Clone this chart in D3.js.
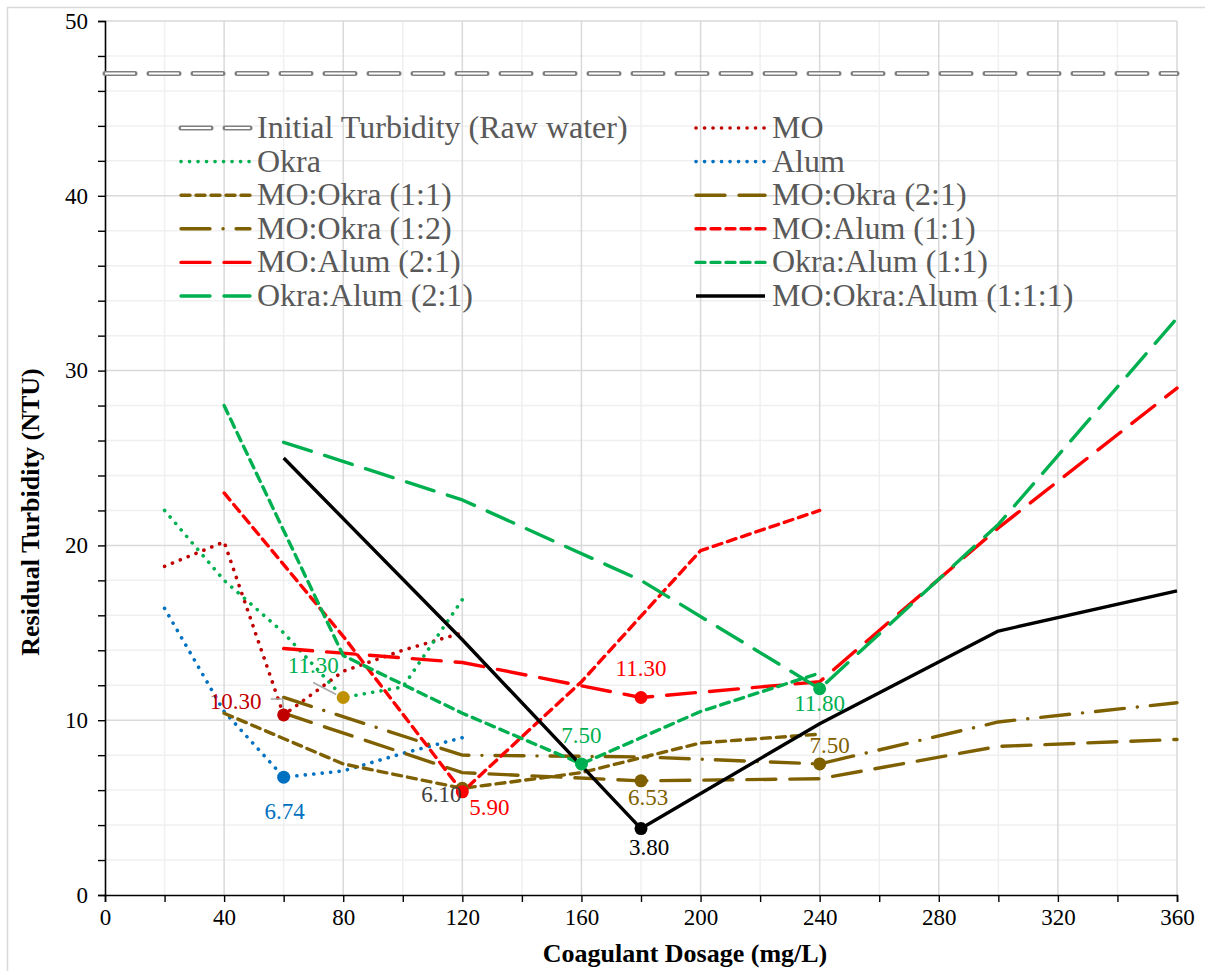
<!DOCTYPE html>
<html>
<head>
<meta charset="utf-8">
<script src="https://cdn.jsdelivr.net/npm/d3@7"></script>
<style>
  body { margin: 0; background: #fff; }
  svg text { font-family: "Liberation Serif", "Times New Roman", serif; }
</style>
</head>
<body>
<div id="chart"></div>
<script>
// values (dose in mg/L, residual turbidity in NTU)
var rawDose = [0, 360],
    rawNTU = [47, 47];
var moDose = [20, 40, 60, 80, 100, 120],
    moNTU = [18.8, 20.2, 10.3, 12.8, 14.0, 15.0];
var okraDose = [20, 40, 60, 80, 100, 120],
    okraNTU = [22.0, 18.0, 15.0, 11.3, 11.9, 16.9];
var alumDose = [20, 40, 60, 80, 100, 120],
    alumNTU = [16.4, 10.5, 6.74, 7.1, 8.1, 9.0];
var moOkra11Dose = [40, 80, 120, 160, 200, 240],
    moOkra11NTU = [10.4, 7.5, 6.1, 7.0, 8.7, 9.2];
var moOkra21Dose = [60, 120, 180, 240, 300, 360],
    moOkra21NTU = [10.4, 7.0, 6.53, 6.65, 8.5, 8.9];
var moOkra12Dose = [60, 120, 180, 240, 300, 360],
    moOkra12NTU = [11.3, 8.0, 7.9, 7.5, 9.9, 11.0];
var moAlum11Dose = [40, 80, 120, 160, 200, 240],
    moAlum11NTU = [23.0, 14.8, 5.9, 12.2, 19.7, 22.0];
var moAlum21Dose = [60, 120, 180, 240, 300, 360],
    moAlum21NTU = [14.1, 13.3, 11.3, 12.2, 21.0, 29.0];
var okraAlum11Dose = [40, 80, 120, 160, 200, 240],
    okraAlum11NTU = [28.0, 13.7, 10.4, 7.5, 10.5, 12.7];
var okraAlum21Dose = [60, 120, 180, 240, 300, 360],
    okraAlum21NTU = [25.9, 22.6, 18.0, 11.8, 21.2, 33.0];
var mixDose = [60, 120, 180, 240, 300, 360],
    mixNTU = [25.0, 14.6, 3.8, 9.8, 15.1, 17.4];

// labelled optimum points
var calloutKeys = ["MO", "Okra", "Alum", "MO:Okra (1:1)", "MO:Alum (1:1)", "MO:Alum (2:1)",
                   "Okra:Alum (1:1)", "Okra:Alum (2:1)", "MO:Okra (1:2)", "MO:Okra (2:1)", "MO:Okra:Alum (1:1:1)"];
var calloutDose = [60, 80, 60, 120, 120, 180, 160, 240, 240, 180, 180];
var calloutNTU = [10.30, 11.30, 6.74, 6.10, 5.90, 11.30, 7.50, 11.80, 7.50, 6.53, 3.80];

var xTicks = [0, 40, 80, 120, 160, 200, 240, 280, 320, 360],
    yTicks = [0, 10, 20, 30, 40, 50];

var W = 1205, H = 971,
    M = {left: 105, right: 1177, top: 21, bottom: 895};

var DOT = "0.1 8.4", SHORT = "9 6", LONG = "29 14", LONGDOT = "29 13 0.1 13";

var series = [
  {name: "Initial Turbidity (Raw water)", x: rawDose, y: rawNTU, color: "#7f7f7f", dash: "30 14", raw: true},
  {name: "MO", x: moDose, y: moNTU, color: "#C00000", dash: DOT, cap: "round"},
  {name: "Okra", x: okraDose, y: okraNTU, color: "#00B050", dash: DOT, cap: "round"},
  {name: "Alum", x: alumDose, y: alumNTU, color: "#0070C0", dash: DOT, cap: "round"},
  {name: "MO:Okra (1:1)", x: moOkra11Dose, y: moOkra11NTU, color: "#7F6000", dash: SHORT},
  {name: "MO:Okra (2:1)", x: moOkra21Dose, y: moOkra21NTU, color: "#7F6000", dash: LONG},
  {name: "MO:Okra (1:2)", x: moOkra12Dose, y: moOkra12NTU, color: "#7F6000", dash: LONGDOT},
  {name: "MO:Alum (1:1)", x: moAlum11Dose, y: moAlum11NTU, color: "#FF0000", dash: SHORT},
  {name: "MO:Alum (2:1)", x: moAlum21Dose, y: moAlum21NTU, color: "#FF0000", dash: LONG},
  {name: "Okra:Alum (1:1)", x: okraAlum11Dose, y: okraAlum11NTU, color: "#00B050", dash: SHORT},
  {name: "Okra:Alum (2:1)", x: okraAlum21Dose, y: okraAlum21NTU, color: "#00B050", dash: LONG},
  {name: "MO:Okra:Alum (1:1:1)", x: mixDose, y: mixNTU, color: "#000000", dash: null}
];

// marker / label look for each callout (same order as calloutKeys)
var calloutStyle = [
  {marker: "#C00000", label: "#C00000", dx: -48, dy: -6, leader: [[-13, -16], [-1, -16], [0, -2]]},
  {marker: "#BF9000", label: "#00B050", dx: -30, dy: -24, leader: [[-30, -15], [-7, -3]]},
  {marker: "#0070C0", label: "#0070C0", dx: 1, dy: 42},
  {marker: "#7F6000", label: "#404040", dx: -21, dy: 14},
  {marker: "#FF0000", label: "#FF0000", dx: 27, dy: 23},
  {marker: "#FF0000", label: "#FF0000", dx: 0, dy: -21},
  {marker: "#00B050", label: "#00B050", dx: 0, dy: -21},
  {marker: "#00B050", label: "#00B050", dx: 0, dy: 22},
  {marker: "#7F6000", label: "#7F6000", dx: 10, dy: -11},
  {marker: "#7F6000", label: "#7F6000", dx: 7, dy: 24},
  {marker: "#000000", label: "#000000", dx: 8, dy: 26}
];

var x = d3.scaleLinear().domain([0, 360]).range([M.left, M.right]);
var y = d3.scaleLinear().domain([0, 50]).range([M.bottom, M.top]);

var svg = d3.select("#chart").append("svg")
  .attr("width", W).attr("height", H);

// chart area border
svg.append("rect")
  .attr("x", 7.5).attr("y", 7.5).attr("width", W + 20).attr("height", H + 20)
  .attr("fill", "none").attr("stroke", "#d9d9d9").attr("stroke-width", 1.5);

// grid: minor first then major
var grid = svg.append("g");
grid.selectAll(".vmin").data(d3.range(20, 361, 40)).enter().append("line")
  .attr("x1", function(d){ return x(d); }).attr("x2", function(d){ return x(d); })
  .attr("y1", M.top).attr("y2", M.bottom)
  .attr("stroke", "#f0f0f0").attr("stroke-width", 1.5);
grid.selectAll(".hmin").data(d3.range(0, 51, 2).filter(function(d){ return d % 10; })).enter().append("line")
  .attr("x1", M.left).attr("x2", M.right)
  .attr("y1", function(d){ return y(d); }).attr("y2", function(d){ return y(d); })
  .attr("stroke", "#f0f0f0").attr("stroke-width", 1.5);
grid.selectAll(".vmaj").data(xTicks.slice(1)).enter().append("line")
  .attr("x1", function(d){ return x(d); }).attr("x2", function(d){ return x(d); })
  .attr("y1", M.top).attr("y2", M.bottom)
  .attr("stroke", "#d9d9d9").attr("stroke-width", 1.5);
grid.selectAll(".hmaj").data(yTicks.slice(1)).enter().append("line")
  .attr("x1", M.left).attr("x2", M.right)
  .attr("y1", function(d){ return y(d); }).attr("y2", function(d){ return y(d); })
  .attr("stroke", "#d9d9d9").attr("stroke-width", 1.5);

// axes
var yAxis = d3.axisLeft(y).tickValues(d3.range(0, 51, 2)).tickSize(7)
  .tickFormat(function(d){ return d % 10 === 0 ? d : ""; });
var gy = svg.append("g").attr("transform", "translate(" + M.left + ",0)").call(yAxis);
var xAxis = d3.axisBottom(x).tickValues(d3.range(0, 361, 20)).tickSize(7)
  .tickFormat(function(d){ return d % 40 === 0 ? d : ""; });
var gx = svg.append("g").attr("transform", "translate(0," + M.bottom + ")").call(xAxis);
[gx, gy].forEach(function(g){
  g.attr("font-family", null);
  g.select(".domain").attr("stroke", "#000").attr("stroke-width", 1.6);
  g.selectAll(".tick line").attr("stroke", "#000").attr("stroke-width", 1.4);
  g.selectAll(".tick text").attr("fill", "#000").style("font-size", "23px");
});
gy.selectAll(".tick text").attr("x", -17);
gx.selectAll(".tick text").attr("y", 14);

svg.append("text")
  .attr("x", 685).attr("y", 962)
  .attr("text-anchor", "middle").style("font-size", "26px").style("font-weight", "bold")
  .text("Coagulant Dosage (mg/L)");
svg.append("text")
  .attr("transform", "translate(39,512) rotate(-90)")
  .attr("text-anchor", "middle").style("font-size", "26px").style("font-weight", "bold")
  .text("Residual Turbidity (NTU)");

// series lines
var line = d3.line()
  .x(function(d){ return x(d[0]); })
  .y(function(d){ return y(d[1]); });

function drawStroke(sel, s){
  if (s.raw) {
    sel.append("path").attr("d", sel.datum()).attr("fill", "none")
      .attr("stroke", "#808080").attr("stroke-width", 5)
      .attr("stroke-dasharray", s.dash).attr("stroke-linecap", "round");
    sel.append("path").attr("d", sel.datum()).attr("fill", "none")
      .attr("stroke", "#ffffff").attr("stroke-width", 2)
      .attr("stroke-dasharray", s.dash).attr("stroke-linecap", "butt");
    return;
  }
  sel.append("path").attr("d", sel.datum()).attr("fill", "none")
    .attr("stroke", s.color).attr("stroke-width", s.cap === "round" ? 3.6 : 3.4)
    .attr("stroke-dasharray", s.dash)
    .attr("stroke-linecap", s.cap || (s.dash ? "round" : "butt"))
    .attr("stroke-linejoin", "round");
}

var lines = svg.append("g");
series.forEach(function(s){
  var pts = s.x.map(function(d, i){ return [d, s.y[i]]; });
  var g = lines.append("g").datum(line(pts));
  drawStroke(g, s);
});

// callout markers, leaders, labels
var call = svg.append("g");
calloutKeys.forEach(function(k, i){
  var st = calloutStyle[i];
  var px = x(calloutDose[i]), py = y(calloutNTU[i]);
  if (st.leader) {
    call.append("polyline")
      .attr("points", st.leader.map(function(p){ return (px + p[0]) + "," + (py + p[1]); }).join(" "))
      .attr("fill", "none").attr("stroke", "#a6a6a6").attr("stroke-width", 1.5);
  }
  call.append("circle").attr("cx", px).attr("cy", py).attr("r", 6.5).attr("fill", st.marker);
});
calloutKeys.forEach(function(k, i){
  var st = calloutStyle[i];
  var px = x(calloutDose[i]), py = y(calloutNTU[i]);
  call.append("text").attr("x", px + st.dx).attr("y", py + st.dy)
    .attr("text-anchor", "middle").attr("fill", st.label).style("font-size", "23px")
    .text(calloutNTU[i].toFixed(2));
});

// legend, two columns
var leg = svg.append("g");
series.forEach(function(s, i){
  var col = i % 2, row = Math.floor(i / 2);
  var lx = col ? 696 : 181, ly = 128 + row * 33.6;
  var g = leg.append("g").datum("M" + lx + "," + ly + "H" + (lx + 69));
  drawStroke(g, s);
  leg.append("text").attr("x", lx + 76).attr("y", ly + 10)
    .attr("fill", "#595959").style("font-size", "32px").text(s.name);
});
</script>
</body>
</html>
